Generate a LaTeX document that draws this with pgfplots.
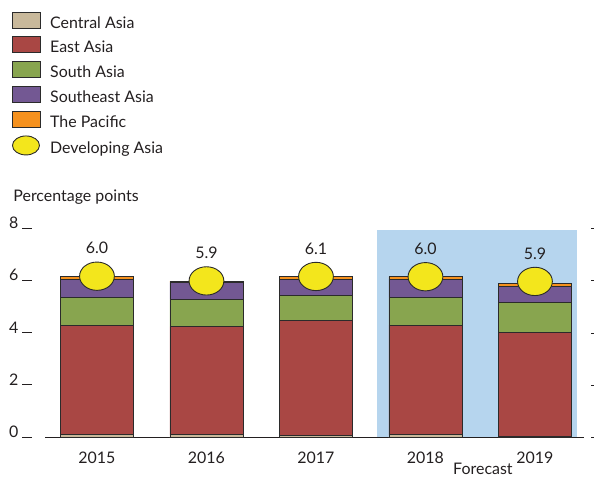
\documentclass[border=0pt]{standalone}
\usepackage{pgfplots}
\pgfplotsset{compat=1.18}
\usepackage{fontspec}
\setmainfont{Lato}
\definecolor{ca}{RGB}{201,185,155}
\definecolor{ea}{RGB}{169,71,68}
\definecolor{sa}{RGB}{136,165,79}
\definecolor{sea}{RGB}{115,88,147}
\definecolor{pac}{RGB}{245,145,30}
\definecolor{yel}{RGB}{243,230,28}
\definecolor{fcst}{RGB}{182,213,238}
\definecolor{edge}{RGB}{43,43,43}
\definecolor{txt}{RGB}{35,31,32}
\begin{document}
\begin{tikzpicture}[font=\fontsize{16}{19}\selectfont, text=txt]
\useasboundingbox (-45.5bp,-41.5bp) rectangle (549.5bp,437.5bp);
\pgfplotsset{base/.style={scale only axis, width=545.3bp, height=208.8bp,
  xmin=-0.47, xmax=4.51, ymin=0, ymax=8, clip=false}}
% forecast shading (behind the bars)
\begin{axis}[base, hide axis]
\addplot[fill=fcst, draw=none] coordinates {(2.56,0) (2.56,7.95) (4.38,7.95) (4.38,0)} -- cycle;
\end{axis}
% stacked bars
\begin{axis}[base,
  axis line style={draw=none},
  ybar stacked, bar width=73bp,
  xtick={0,1,2,3,4}, xticklabels={2015,2016,2017,2018,2019},
  xtick pos=bottom, x tick style={draw=none},
  xticklabel style={anchor=base, yshift=-22.5bp, text=txt},
  ytick={0,2,4,6,8},
  yticklabels={{0\hspace{4bp}\rule{10bp}{0.9bp}},{2\hspace{4bp}\rule{10bp}{0.9bp}},{4\hspace{4bp}\rule{10bp}{0.9bp}},{6\hspace{4bp}\rule{10bp}{0.9bp}},{8\hspace{4bp}\rule{10bp}{0.9bp}}},
  ytick pos=right, yticklabel pos=left,
  y tick style={draw=txt, line width=0.8bp}, tick align=outside,
  major tick length=3bp,
  yticklabel style={anchor=base east, inner sep=0pt, xshift=-10bp, text=txt},
  every axis plot/.append style={draw=edge, line width=0.9bp},
]
\addplot[fill=ca] coordinates {(0,0.10) (1,0.10) (2,0.07) (3,0.10) (4,0.03)};
\addplot[fill=ea] coordinates {(0,4.21) (1,4.14) (2,4.43) (3,4.21) (4,4.01)};
\addplot[fill=sa] coordinates {(0,1.06) (1,1.05) (2,0.95) (3,1.06) (4,1.14)};
\addplot[fill=sea] coordinates {(0,0.70) (1,0.65) (2,0.61) (3,0.70) (4,0.62)};
\addplot[fill=pac] coordinates {(0,0.10) (1,0.05) (2,0.10) (3,0.09) (4,0.10)};
\draw[txt, line width=1bp] (axis cs:-0.47,0) -- (axis cs:4.45,0);
\node[anchor=base west] at (axis cs:-0.795,9.06) {Percentage points};
\node[anchor=base] at (axis cs:3.525,-1.43) {Forecast};
\end{axis}
% developing Asia markers and legend
\begin{axis}[base, hide axis,
  legend style={at={(-0.0627,2.04)}, anchor=north west, draw=none, fill=none,
    inner sep=0pt, row sep=4.3bp, text=txt,
    nodes={inner sep=0pt, text height=12bp, text depth=4bp}},
  legend cell align=left,
]
\addlegendimage{legend image code/.code={\draw[fill=ca, draw=edge, line width=0.9bp] (0bp,-4bp) rectangle (28bp,12bp); \path (38bp,0bp);}}
\addlegendimage{legend image code/.code={\draw[fill=ea, draw=edge, line width=0.9bp] (0bp,-4bp) rectangle (28bp,12bp); \path (38bp,0bp);}}
\addlegendimage{legend image code/.code={\draw[fill=sa, draw=edge, line width=0.9bp] (0bp,-4bp) rectangle (28bp,12bp); \path (38bp,0bp);}}
\addlegendimage{legend image code/.code={\draw[fill=sea, draw=edge, line width=0.9bp] (0bp,-4bp) rectangle (28bp,12bp); \path (38bp,0bp);}}
\addlegendimage{legend image code/.code={\draw[fill=pac, draw=edge, line width=0.9bp] (0bp,-4bp) rectangle (28bp,12bp); \path (38bp,0bp);}}
\addplot[only marks, mark=*, mark size=14.2pt,
  mark options={xscale=1.23, fill=yel, draw=edge, line width=0.9bp},
  point meta=explicit symbolic, nodes near coords,
  every node near coord/.append style={anchor=center, yshift=28bp, text=txt},
  legend image code/.code={\draw[fill=yel, draw=edge, line width=0.9bp] (14bp,4bp) ellipse (13.5bp and 9.5bp); \path (38bp,0bp);}]
  coordinates {(0,6.18) [6.0] (1,6.0) [5.9] (2,6.17) [6.1] (3,6.16) [6.0] (4,5.98) [5.9]};
\legend{Central Asia, East Asia, South Asia, Southeast Asia, The Pacific, Developing Asia}
\end{axis}
\end{tikzpicture}
\end{document}
